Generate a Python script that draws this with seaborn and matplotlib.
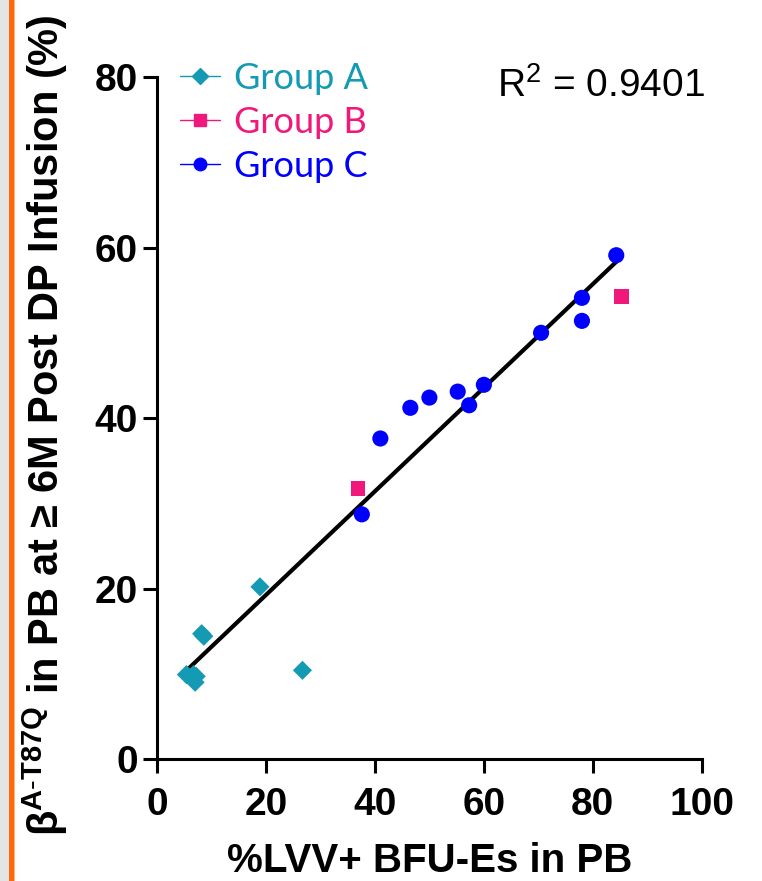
import numpy as np
import pandas as pd
import matplotlib
matplotlib.use("Agg")
import matplotlib.pyplot as plt
from matplotlib.patches import Rectangle
from matplotlib.lines import Line2D
import seaborn as sns

# values
group_a_x = [5.4, 6.7, 7.2, 7.0, 8.2, 8.6, 18.9, 26.7]
group_a_y = [9.9, 9.9, 9.7, 9.0, 14.7, 14.4, 20.2, 10.4]
group_b_x = [36.9, 85.3]
group_b_y = [31.7, 54.3]
group_c_x = [37.6, 41.0, 46.5, 50.0, 55.2, 57.3, 60.0, 70.5, 78.0, 78.0, 84.3]
group_c_y = [28.7, 37.6, 41.2, 42.4, 43.1, 41.5, 43.9, 50.0, 54.1, 51.4, 59.1]
groups = ["Group A", "Group B", "Group C"]
colors = {"Group A": "#149BB3", "Group B": "#F0197B", "Group C": "#0000FF"}
markers = {"Group A": "D", "Group B": "s", "Group C": "o"}
sizes = {"Group A": 95, "Group B": 115, "Group C": 135}
r2_text = r"R$^2$ = 0.9401"

df = pd.concat([
    pd.DataFrame({"x": group_a_x, "y": group_a_y, "group": "Group A"}),
    pd.DataFrame({"x": group_b_x, "y": group_b_y, "group": "Group B"}),
    pd.DataFrame({"x": group_c_x, "y": group_c_y, "group": "Group C"}),
], ignore_index=True)

sns.set_style("ticks")
plt.rcParams["font.family"] = ["Liberation Sans", "DejaVu Sans"]
plt.rcParams["mathtext.fontset"] = "custom"
plt.rcParams["mathtext.rm"] = "Liberation Sans"
plt.rcParams["mathtext.bf"] = "Liberation Sans:bold"
for k in ["text.color", "axes.labelcolor", "xtick.color", "ytick.color", "axes.edgecolor"]:
    plt.rcParams[k] = "black"

fig = plt.figure(figsize=(7.62, 8.81), dpi=100)
ax = fig.add_axes([0.206, 0.1385, 0.715, 0.774])

# regression line through all points
sns.regplot(data=df, x="x", y="y", scatter=False, ci=None, truncate=True,
            color="black", line_kws={"linewidth": 3}, ax=ax)

for g in groups:
    sub = df[df["group"] == g]
    sns.scatterplot(data=sub, x="x", y="y", marker=markers[g], s=sizes[g],
                    color=colors[g], edgecolor="none", ax=ax, zorder=3,
                    clip_on=False, legend=False)

ax.set_xlim(0, 100)
ax.set_ylim(0, 80)
ax.set_xticks([0, 20, 40, 60, 80, 100])
ax.set_yticks([0, 20, 40, 60, 80])
sns.despine(ax=ax)
for s in ["left", "bottom"]:
    ax.spines[s].set_linewidth(2.2)
ax.tick_params(length=10, width=2.2, labelsize=28)
for lab in ax.get_xticklabels() + ax.get_yticklabels():
    lab.set_fontweight("bold")
ax.tick_params(axis="x", pad=10)

ax.set_xlabel("%LVV+ BFU-Es in PB", fontsize=29, fontweight="bold", labelpad=14)
ax.set_ylabel(r"β$^{\mathbf{A}\text{-}\mathbf{T87Q}}$ in PB at ≥ 6M Post DP Infusion (%)",
              fontsize=30, fontweight="bold")
ax.yaxis.set_label_coords(-0.16, 0.49)

ax.text(1.005, 0.987, r2_text, transform=ax.transAxes, ha="right", va="center",
        fontsize=28)

handles = [Line2D([0], [0], color=colors[g], marker=markers[g], linewidth=1,
                  markersize=9 if g != "Group A" else 8) for g in groups]
leg = ax.legend(handles, groups, loc="upper left", bbox_to_anchor=(0.042, 1.022),
                frameon=False, handlelength=1.1, handletextpad=0.4,
                borderpad=0, borderaxespad=0,
                labelspacing=0.3, prop={"family": "Lato", "size": 26})
for t, g in zip(leg.get_texts(), groups):
    t.set_color(colors[g])

# left page border strip
fig.patches.append(Rectangle((0, 0), 9 / 762, 1, transform=fig.transFigure,
                             facecolor="#E4E4E4", edgecolor="none"))
fig.patches.append(Rectangle((9 / 762, 0), 5 / 762, 1, transform=fig.transFigure,
                             facecolor="#FF6A0A", edgecolor="none"))
fig.patches.append(Rectangle((14 / 762, 0), 1 / 762, 1, transform=fig.transFigure,
                             facecolor="#FFB37F", edgecolor="none"))

fig.savefig("out.png", dpi=100)
